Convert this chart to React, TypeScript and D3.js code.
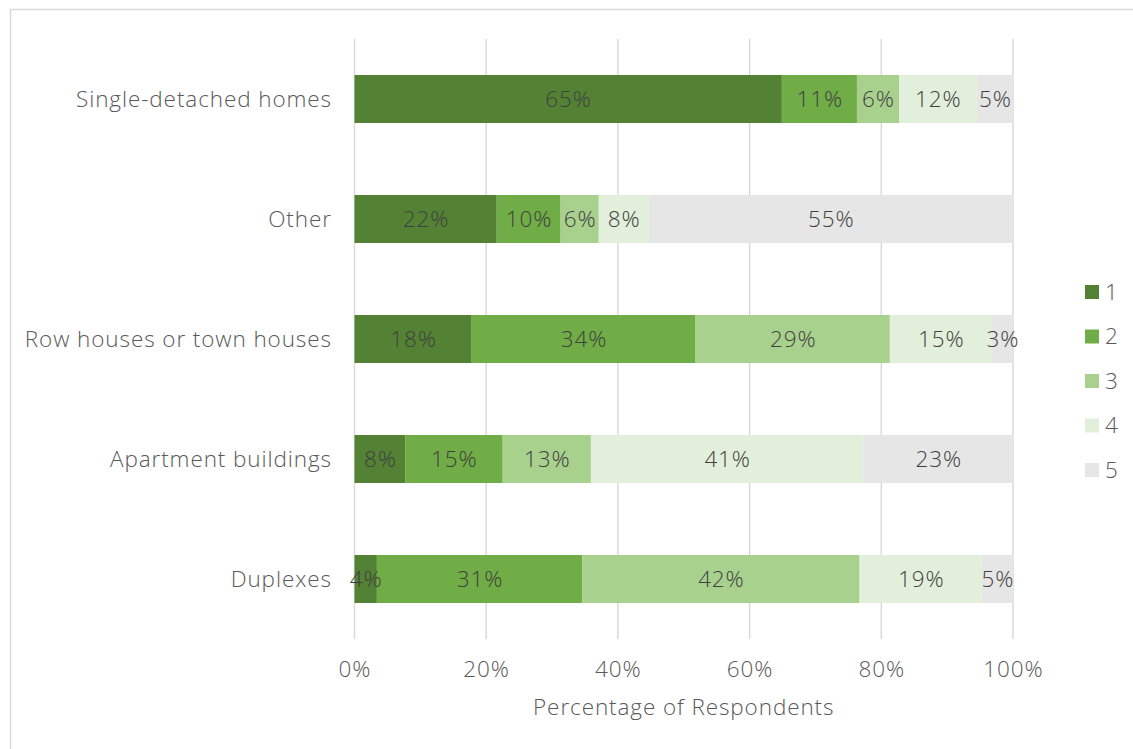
import React from "react";
import * as d3 from "d3";

const categories = [
  "Single-detached homes",
  "Other",
  "Row houses or town houses",
  "Apartment buildings",
  "Duplexes",
];
const seriesNames = ["1", "2", "3", "4", "5"];
const series1 = [64.9, 21.6, 17.8, 7.7, 3.4];
const series2 = [11.4, 9.7, 34.0, 14.8, 31.2];
const series3 = [6.4, 5.8, 29.5, 13.4, 42.1];
const series4 = [11.8, 7.6, 15.5, 41.4, 18.6];
const series5 = [5.5, 55.3, 3.2, 22.7, 4.7];
const labels1 = ["65%", "22%", "18%", "8%", "4%"];
const labels2 = ["11%", "10%", "34%", "15%", "31%"];
const labels3 = ["6%", "6%", "29%", "13%", "42%"];
const labels4 = ["12%", "8%", "15%", "41%", "19%"];
const labels5 = ["5%", "55%", "3%", "23%", "5%"];
const xTicks = [0, 20, 40, 60, 80, 100];
const colors = ["#548235", "#70AD47", "#A9D18E", "#E2EFDA", "#E7E6E6"];

const allSeries = [series1, series2, series3, series4, series5];
const allLabels = [labels1, labels2, labels3, labels4, labels5];

const W = 1133;
const H = 749;
const FONT = "'Open Sans', Lato, sans-serif";
const FS = 22.5;
const LS = 0.9;

export default function App() {
  const x = d3.scaleLinear().domain([0, 100]).range([354.5, 1013]);
  const y = d3
    .scaleBand<string>()
    .domain(categories)
    .range([39, 639])
    .paddingInner(0.6)
    .paddingOuter(0.3);

  const rows = categories.map((c, i) => ({
    cat: c,
    vals: allSeries.map((s) => s[i]),
  }));
  const stack = d3
    .stack<any>()
    .keys(seriesNames)
    .value((d: any, k: string) => d.vals[+k - 1]);
  const stacked = stack(rows);

  const txt = { fontFamily: FONT, fontWeight: 300, fontSize: FS, letterSpacing: LS } as const;

  return (
    <div style={{ position: "fixed", left: 0, top: 0 }}>
      <svg width={W} height={H} style={{ display: "block", background: "#fff" }}>
        <rect x={10.5} y={9.5} width={W + 10} height={H + 10} fill="#fff" stroke="#d9d9d9" strokeWidth={1.5} />
        {xTicks.map((t) => (
          <line key={t} x1={x(t)} x2={x(t)} y1={39} y2={639} stroke="#d9d9d9" strokeWidth={1.5} />
        ))}
        {stacked.map((layer, si) =>
          layer.map((d, ci) => (
            <rect
              key={`${si}-${ci}`}
              x={x(d[0])}
              y={y(categories[ci])!}
              width={x(d[1]) - x(d[0])}
              height={y.bandwidth()}
              fill={colors[si]}
            />
          ))
        )}
        {stacked.map((layer, si) =>
          layer.map((d, ci) => (
            <text
              key={`t${si}-${ci}`}
              x={(x(d[0]) + x(d[1])) / 2 + LS / 2}
              y={y(categories[ci])! + y.bandwidth() / 2}
              dy="0.35em"
              textAnchor="middle"
              {...txt}
              fill="#404040"
            >
              {allLabels[si][ci]}
            </text>
          ))
        )}
        {categories.map((c) => (
          <text
            key={c}
            x={331 + LS}
            y={y(c)! + y.bandwidth() / 2}
            dy="0.35em"
            textAnchor="end"
            {...txt}
            fill="#595959"
          >
            {c}
          </text>
        ))}
        {xTicks.map((t) => (
          <text
            key={`x${t}`}
            x={x(t) + LS / 2}
            y={669}
            dy="0.35em"
            textAnchor="middle"
            {...txt}
            fill="#595959"
          >
            {t}%
          </text>
        ))}
        <text
          x={(x(0) + x(100)) / 2}
          y={707}
          dy="0.35em"
          textAnchor="middle"
          {...txt}
          fill="#595959"
        >
          Percentage of Respondents
        </text>
        {seriesNames.map((s, i) => (
          <g key={s} transform={`translate(1085, ${292 + i * 44.5})`}>
            <rect x={0} y={-7} width={14} height={14} fill={colors[i]} />
            <text x={20} y={0} dy="0.35em" {...txt} fill="#595959">
              {s}
            </text>
          </g>
        ))}
      </svg>
    </div>
  );
}
